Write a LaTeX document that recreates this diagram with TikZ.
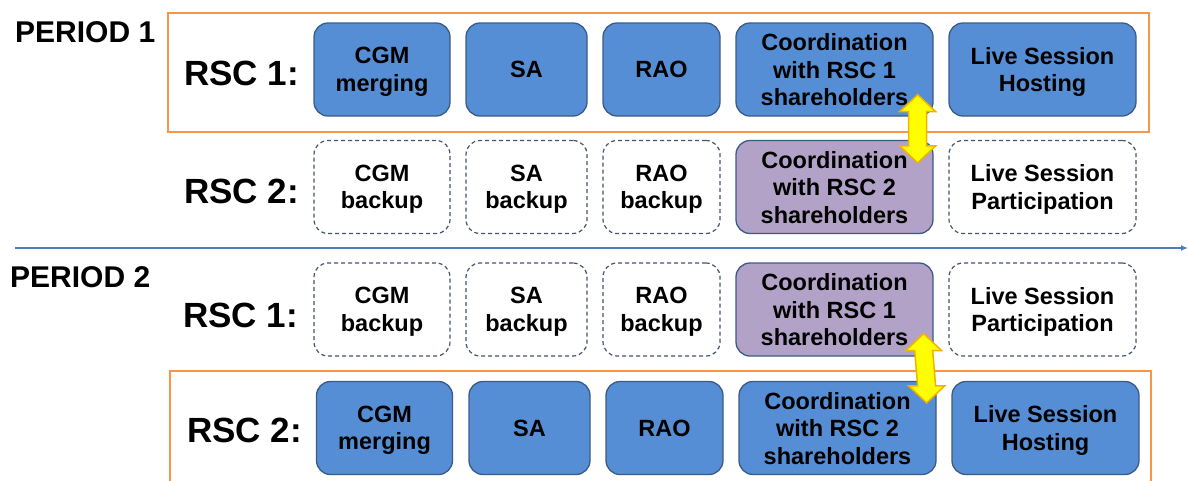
\documentclass[tikz,border=0pt]{standalone}
\usepackage{fontspec}
\setmainfont{Liberation Sans}
\usetikzlibrary{calc,arrows.meta}

\definecolor{taskblue}{HTML}{558ED5}
\definecolor{taskedge}{HTML}{3B5A86}
\definecolor{coordpurple}{HTML}{B3A2C7}
\definecolor{dashedge}{HTML}{44546A}
\definecolor{hostorange}{HTML}{F79646}
\definecolor{timeblue}{HTML}{4A7EBB}
\definecolor{arrowgold}{HTML}{F2B300}
\definecolor{arrowyellow}{HTML}{FFFF00}

\tikzset{
  box/.style={rounded corners=14pt, inner sep=0pt, align=center,
    text depth=0pt,
    font=\bfseries\fontsize{23.5}{27.5}\selectfont, line width=1.3pt},
  active/.style={box, draw=taskedge, fill=taskblue},
  shared/.style={box, draw=taskedge, fill=coordpurple},
  standby/.style={box, draw=dashedge, line width=1.2pt,
    dash pattern=on 4pt off 3pt, fill=white},
  wcgm/.style={minimum width=136pt},
  wsa/.style={minimum width=121pt},
  wrao/.style={minimum width=117pt},
  wcoord/.style={minimum width=197pt},
  wlive/.style={minimum width=187pt},
  hrow/.style={minimum height=93pt},
  rsclabel/.style={anchor=west, inner sep=0pt,
    font=\bfseries\fontsize{35}{40}\selectfont},
  periodlabel/.style={anchor=west, inner sep=0pt,
    font=\bfseries\fontsize{30}{34}\selectfont},
  hostframe/.style={draw=hostorange, line width=2.5pt},
  timeline/.style={draw=timeblue, line width=1.5pt,
    -{Latex[length=7pt,width=6pt]}},
  swaparrow/.style={draw=arrowgold, fill=arrowyellow, line width=1.5pt,
    line join=miter}
}

\begin{document}
\begin{tikzpicture}[x=1pt,y=-1pt]
\useasboundingbox (0,0) rectangle (1188,480);
\clip (0,0) rectangle (1188,480);

% hosting frames
\draw[hostframe] (168,13) rectangle (1149,132);
\draw[hostframe] (170,371) rectangle (1151,500);

% period headings
\node[periodlabel] (per1) at (15,32) {PERIOD 1};
\node[periodlabel] (per2) at (10,277) {PERIOD 2};

% time axis
\coordinate (tl0) at (15,248);
\coordinate (tl1) at (1188,248);
\draw[timeline] (tl0) -- (tl1);

% Period 1, RSC 1 (hosting)
\node[rsclabel] (l11) at (184,73.5) {RSC 1:};
\node[active,wcgm,hrow]   (a11) at (382,69.5)    {CGM\\merging};
\node[active,wsa,hrow]    (a12) at (526.5,69.5)  {SA};
\node[active,wrao,hrow]   (a13) at (661.5,69.5)  {RAO};
\node[active,wcoord,hrow] (a14) at (834.5,69.5)  {Coordination\\with RSC 1\\shareholders};
\node[active,wlive,hrow]  (a15) at (1042.5,69.5) {Live Session\\Hosting};

% Period 1, RSC 2 (backup)
\node[rsclabel] (l12) at (184,191.5) {RSC 2:};
\node[standby,wcgm,hrow]  (b11) at (382,187)    {CGM\\backup};
\node[standby,wsa,hrow]   (b12) at (526.5,187)  {SA\\backup};
\node[standby,wrao,hrow]  (b13) at (661.5,187)  {RAO\\backup};
\node[shared,wcoord,hrow] (b14) at (834.5,187)  {Coordination\\with RSC 2\\shareholders};
\node[standby,wlive,hrow] (b15) at (1042.5,187) {Live Session\\Participation};

% Period 2, RSC 1 (backup)
\node[rsclabel] (l21) at (183,315) {RSC 1:};
\node[standby,wcgm,hrow]  (c11) at (382,309.5)    {CGM\\backup};
\node[standby,wsa,hrow]   (c12) at (526.5,309.5)  {SA\\backup};
\node[standby,wrao,hrow]  (c13) at (661.5,309.5)  {RAO\\backup};
\node[shared,wcoord,hrow] (c14) at (834.5,309.5)  {Coordination\\with RSC 1\\shareholders};
\node[standby,wlive,hrow] (c15) at (1042.5,309.5) {Live Session\\Participation};

% Period 2, RSC 2 (hosting)
\node[rsclabel] (l22) at (187,430.5) {RSC 2:};
\node[active,wcgm,hrow]   (d11) at (384.5,428)  {CGM\\merging};
\node[active,wsa,hrow]    (d12) at (529.5,428)  {SA};
\node[active,wrao,hrow]   (d13) at (664.5,428)  {RAO};
\node[active,wcoord,hrow] (d14) at (837.5,428)  {Coordination\\with RSC 2\\shareholders};
\node[active,wlive,hrow]  (d15) at (1045.5,428) {Live Session\\Hosting};

% coordination exchange arrows
\coordinate (t1) at ([xshift=-16pt,yshift=22pt]a14.south east);
\coordinate (u1) at ([xshift=-16pt,yshift=-23pt]b14.north east);
\draw[swaparrow] (t1) -- ++(18,17) -- ++(-9,0) -- ($(u1)+(9,-17)$) -- ++(9,0)
  -- (u1) -- ++(-18,-17) -- ++(9,0) -- ($(t1)+(-9,17)$) -- ++(-9,0) -- cycle;

\coordinate (t2) at ([xshift=-10pt,yshift=23pt]c14.south east);
\coordinate (u2) at ([xshift=-10pt,yshift=-22pt]d14.north east);
\draw[swaparrow] (t2) -- ++(18,17) -- ++(-9,0) -- ($(u2)+(9,-17)$) -- ++(9,0)
  -- (u2) -- ++(-18,-17) -- ++(9,0) -- ($(t2)+(-9,17)$) -- ++(-9,0) -- cycle;
\end{tikzpicture}
\end{document}
